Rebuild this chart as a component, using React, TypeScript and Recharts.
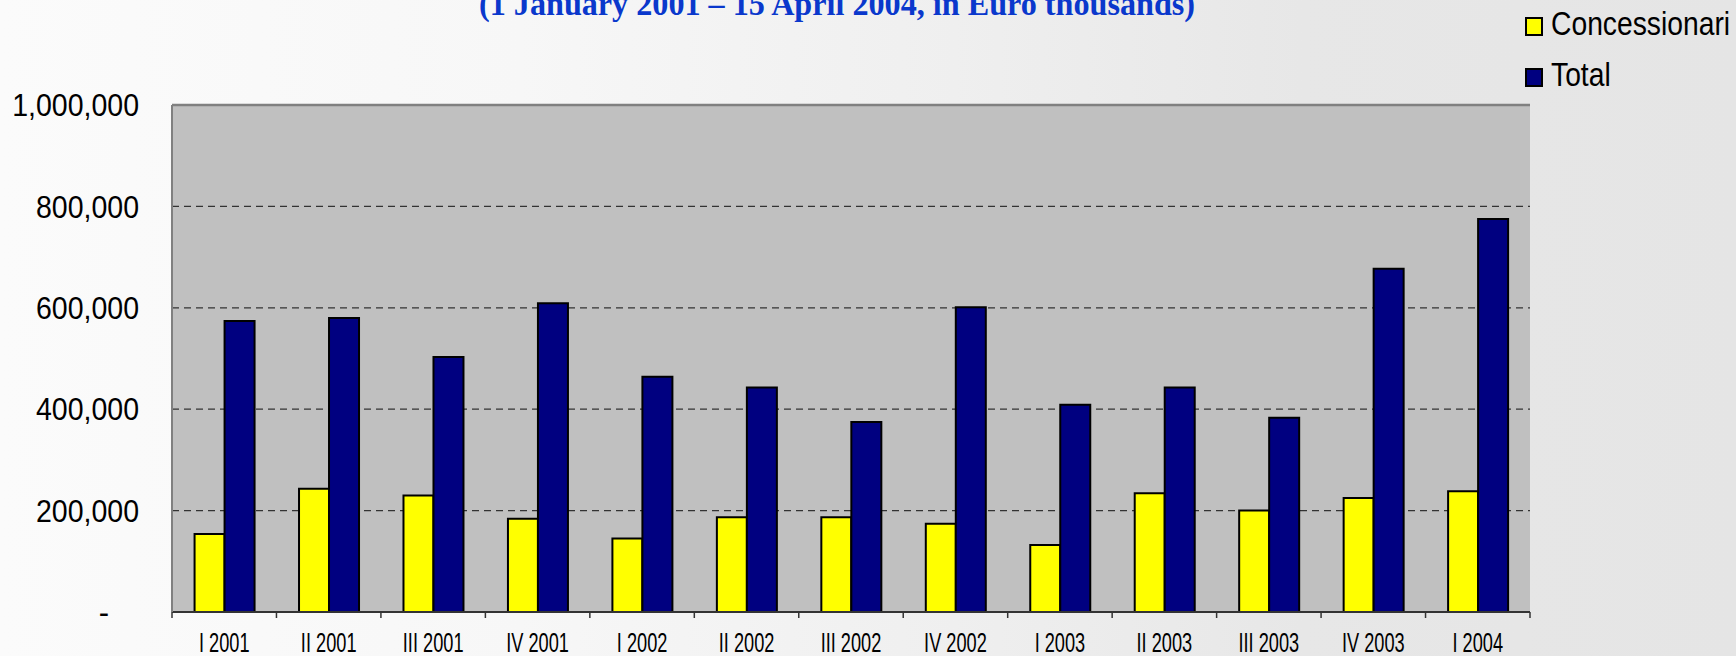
import React from 'react';
import { BarChart, Bar, XAxis, YAxis, CartesianGrid, ReferenceLine, Legend } from 'recharts';

const categories = ['I 2001', 'II 2001', 'III 2001', 'IV 2001', 'I 2002', 'II 2002', 'III 2002', 'IV 2002', 'I 2003', 'II 2003', 'III 2003', 'IV 2003', 'I 2004'];
const concessionari = [154000, 243000, 230000, 184000, 145000, 187000, 187000, 174000, 132000, 234000, 200000, 225000, 238000];
const total = [574000, 580000, 503000, 609000, 464000, 443000, 375000, 601000, 409000, 443000, 383000, 677000, 775000];
const yTicks = [0, 200000, 400000, 600000, 800000, 1000000];
const seriesNames = ['Concessionari', 'Total'];
const seriesColors = ['#FFFF00', '#000080'];
const title = '(1 January 2001 \u2013 15 April 2004, in Euro thousands)';

const data = categories.map((c, i) => ({ cat: c, concessionari: concessionari[i], total: total[i] }));

const W = 1736;
const H = 656;
const M = { top: 105, right: 206, bottom: 0, left: 0 };
const YW = 172;
const XH = 44;
const BW = (W - M.left - M.right - YW) / categories.length;

const fmt = (v: number) => (v === 0 ? '-' : v.toLocaleString('en-US'));

const YTick = (props: any) => {
  const { x, y, payload } = props;
  const v = payload.value as number;
  if (v === 0) {
    return (
      <text x={x - 68} y={y} dy="0.35em" textAnchor="middle" fontFamily="'Liberation Sans', Arial, sans-serif" fontSize={31} fill="#000">
        -
      </text>
    );
  }
  return (
    <g transform={`translate(${x - 33},${y})`}>
      <text transform="scale(0.92,1)" x={0} y={0} dy="0.36em" textAnchor="end" fontFamily="'Liberation Sans', Arial, sans-serif" fontSize={31} fill="#000">
        {fmt(v)}
      </text>
    </g>
  );
};

const XTick = (props: any) => {
  const { x, y, payload, index } = props;
  const last = index === categories.length - 1;
  return (
    <g>
      <line x1={x - BW / 2} x2={x - BW / 2} y1={y} y2={y + 6} stroke="#333" strokeWidth={1.5} />
      {last ? <line x1={x + BW / 2} x2={x + BW / 2} y1={y} y2={y + 6} stroke="#333" strokeWidth={1.5} /> : null}
      <g transform={`translate(${x},${y + 39.5})`}>
        <text transform="scale(0.65,1)" x={0} y={0} textAnchor="middle" fontFamily="'Liberation Sans', Arial, sans-serif" fontSize={28} fill="#000">
          {payload.value}
        </text>
      </g>
    </g>
  );
};

const LegendContent = () => (
  <svg width={226} height={100}>
    {seriesNames.map((n, i) => (
      <g key={n} transform={`translate(0,${i * 51})`}>
        <rect x={16} y={18} width={16} height={17} fill={seriesColors[i]} stroke="#000" strokeWidth={2} />
        <g transform="translate(41,35)">
          <text transform="scale(0.87,1)" x={0} y={0} fontFamily="'Liberation Sans', Arial, sans-serif" fontSize={32.5} fill="#000">
            {n}
          </text>
        </g>
      </g>
    ))}
  </svg>
);

export default function App() {
  return (
    <div
      style={{
        position: 'absolute',
        left: 0,
        top: 0,
        width: W,
        height: H,
        overflow: 'hidden',
        background: 'linear-gradient(to right, #fbfbfb 0%, #f7f7f7 30%, #efefef 55%, #e7e7e7 75%, #e5e5e5 100%)',
      }}
    >
      <svg width={W} height={40} style={{ position: 'absolute', left: 0, top: 0 }}>
        <text x={837} y={15} textAnchor="middle" fontFamily="'Liberation Serif', 'Times New Roman', serif" fontWeight="bold" fontSize={33} fill="#0A38CC" textLength={716} lengthAdjust="spacingAndGlyphs">
          {title}
        </text>
      </svg>
      <div style={{ position: 'absolute', left: 0, top: 0 }}>
        <BarChart width={W} height={H} data={data} margin={M} barCategoryGap="21.6%" barGap={0}>
          <CartesianGrid vertical={false} fill="#C0C0C0" fillOpacity={1} stroke="#333" strokeWidth={1.3} strokeDasharray="7 5" />
          <XAxis dataKey="cat" interval={0} height={XH} tickLine={false} tickSize={0} tickMargin={0} axisLine={{ stroke: '#333', strokeWidth: 2 }} tick={<XTick />} />
          <YAxis
            domain={[0, 1000000]}
            ticks={yTicks}
            interval={0}
            width={YW}
            tickLine={false}
            tickSize={0}
            tickMargin={0}
            axisLine={{ stroke: '#808080', strokeWidth: 2 }}
            tick={<YTick />}
          />
          <YAxis yAxisId="r" orientation="right" width={0} domain={[0, 1]} tick={false} tickLine={false} axisLine={{ stroke: '#808080', strokeWidth: 2.5 }} />
          <ReferenceLine y={1000000} stroke="#808080" strokeWidth={2.5} />
          <Legend layout="horizontal" verticalAlign="middle" align="center" content={<LegendContent />} wrapperStyle={{ position: 'absolute', left: 1510, top: 0, width: 226, height: 100 }} />
          <Bar dataKey="concessionari" name={seriesNames[0]} fill={seriesColors[0]} stroke="#000" strokeWidth={2} isAnimationActive={false} />
          <Bar dataKey="total" name={seriesNames[1]} fill={seriesColors[1]} stroke="#000" strokeWidth={2} isAnimationActive={false} />
        </BarChart>
      </div>
    </div>
  );
}
